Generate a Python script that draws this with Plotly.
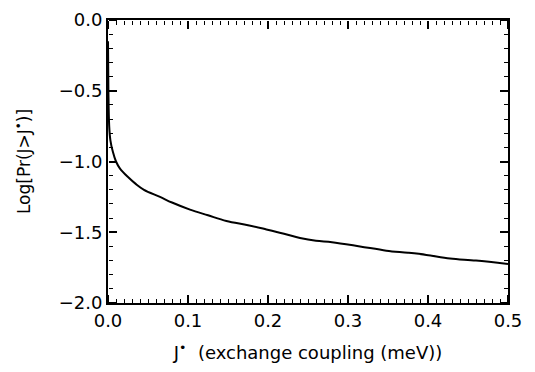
import plotly.graph_objects as go

j_vals = [0.0, 0.0005, 0.0015, 0.003, 0.006, 0.01, 0.015, 0.025, 0.035, 0.045,
          0.065, 0.08, 0.1025, 0.125, 0.148, 0.175, 0.198, 0.22, 0.24, 0.26,
          0.28, 0.315, 0.348, 0.375, 0.398, 0.4275, 0.46, 0.5]
log_pr = [-0.15, -0.5, -0.75, -0.85, -0.93, -1.0, -1.05, -1.11, -1.16, -1.20,
          -1.25, -1.29, -1.34, -1.38, -1.42, -1.45, -1.48, -1.51, -1.54, -1.56,
          -1.57, -1.60, -1.63, -1.645, -1.66, -1.685, -1.70, -1.725]

x_range = [0, 0.5]
y_range = [-2.0, 0.0]
x_tick_step = 0.1
x_minor_step = 0.01
y_tick_step = 0.5
y_minor_step = 0.1

FONT = "DejaVu Sans"

fig = go.Figure()
fig.add_trace(go.Scatter(x=j_vals, y=log_pr, mode="lines",
                         line=dict(color="black", width=2), line_shape="spline",
                         hoverinfo="skip"))

layout = dict(
    width=535, height=372,
    margin=dict(l=108, r=27, t=9, b=69),
    paper_bgcolor="white", plot_bgcolor="white",
    showlegend=False,
    font=dict(family=FONT, color="black"),
    xaxis=dict(range=x_range, tickmode="linear", tick0=0, dtick=x_tick_step,
               tickformat=".1f", showgrid=False, zeroline=False,
               showline=True, linecolor="black", linewidth=2, mirror=True,
               ticks="", tickfont=dict(size=18, family=FONT),
               title=dict(text="J<sup>\u2022</sup>  (exchange coupling (meV))",
                          font=dict(size=18, family=FONT), standoff=17)),
    yaxis=dict(range=y_range, tickmode="linear", tick0=0, dtick=y_tick_step,
               tickformat=".1f", showgrid=False, zeroline=False,
               showline=True, linecolor="black", linewidth=2, mirror=True,
               ticks="", tickfont=dict(size=18, family=FONT),
               title=dict(text="Log[Pr(J>J<sup>\u2022</sup>)]",
                          font=dict(size=17, family=FONT), standoff=24)),
)

# tick-only overlay axes: outward ticks on an axis placed at the opposite edge point into the plot
tick_specs = [
    (x_tick_step, y_tick_step, 8, 2),
    (x_minor_step, y_minor_step, 4, 1),
]
k = 2
for xs, ys, ln, wd in tick_specs:
    for xside, xpos, yside, ypos in [("top", 0, "right", 0), ("bottom", 1, "left", 1)]:
        xa = dict(range=x_range, overlaying="x", side=xside, anchor="free", position=xpos,
                  tickmode="linear", tick0=0, dtick=xs, ticks="outside", ticklen=ln,
                  tickwidth=wd, tickcolor="black", showticklabels=False,
                  showgrid=False, zeroline=False, showline=False)
        ya = dict(range=y_range, overlaying="y", side=yside, anchor="free", position=ypos,
                  tickmode="linear", tick0=0, dtick=ys, ticks="outside", ticklen=ln,
                  tickwidth=wd, tickcolor="black", showticklabels=False,
                  showgrid=False, zeroline=False, showline=False)
        layout["xaxis%d" % k] = xa
        layout["yaxis%d" % k] = ya
        fig.add_trace(go.Scatter(x=[j_vals[0]], y=[log_pr[0]], mode="markers",
                                 marker=dict(opacity=0), hoverinfo="skip",
                                 xaxis="x%d" % k, yaxis="y%d" % k))
        k += 1

fig.update_layout(**layout)
fig.write_html("out.html")
